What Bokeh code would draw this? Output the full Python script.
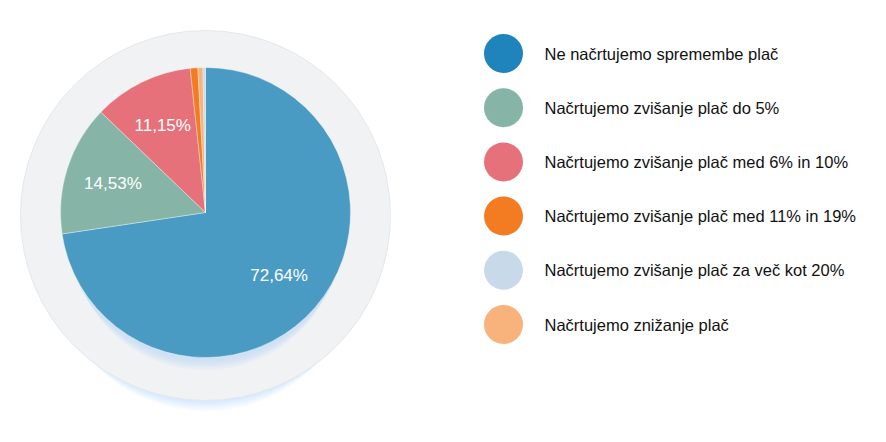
import numpy as np
from bokeh.plotting import figure
from bokeh.models import Range1d
from bokeh.core.properties import value
from bokeh.embed import file_html
from bokeh.resources import INLINE

categories = [
    "Ne načrtujemo spremembe plač",
    "Načrtujemo zvišanje plač do 5%",
    "Načrtujemo zvišanje plač med 6% in 10%",
    "Načrtujemo zvišanje plač med 11% in 19%",
    "Načrtujemo zvišanje plač za več kot 20%",
    "Načrtujemo znižanje plač",
]
values = [72.64, 14.53, 11.15, 0.84, 0.28, 0.56]
legend_colors = ["#1F84BC", "#86B5A7", "#E7717A", "#F37B21", "#C8DAEA", "#F8B27B"]
slice_colors = ["#4A9BC4", "#86B5A7", "#E7717A", "#F37B21", "#C8DAEA", "#F8B27B"]
pie_order = [0, 1, 2, 3, 5, 4]
label_min = 5.0

W, H = 870, 426
p = figure(width=W, height=H, output_backend="svg", toolbar_location=None,
           x_range=Range1d(0, W), y_range=Range1d(0, H), min_border=0)
p.axis.visible = False
p.grid.visible = False
p.outline_line_color = None
p.background_fill_color = "white"
p.border_fill_color = "white"

def sy(y):
    return H - y

cx, cy = 205, sy(212)
ring_cx, ring_cy = 205, sy(215)
R = 145
ring_R = 185

# soft glow below the ring
for k in range(12):
    p.circle(x=[ring_cx], y=[ring_cy - 8 - 3 * k], radius=ring_R - 8 - 2 * k, radius_units="screen",
             fill_color="#8fd2f4", fill_alpha=0.035, line_color=None)
p.circle(x=[ring_cx], y=[ring_cy], radius=ring_R, radius_units="screen",
         fill_color="#F0F2F4", line_color="#e4e7ea", line_width=1)

# soft glow of the pie onto the ring
for k in range(10):
    p.circle(x=[cx], y=[cy - 6 - 2 * k], radius=R - 2 - k, radius_units="screen",
             fill_color="#8fd2f4", fill_alpha=0.04, line_color=None)

# pie
total = sum(values)
ang = np.pi / 2
starts, ends, cols, mids, vals = [], [], [], [], []
for i in pie_order:
    sweep = values[i] / total * 2 * np.pi
    starts.append(ang - sweep)
    ends.append(ang)
    cols.append(slice_colors[i])
    mids.append(ang - sweep / 2)
    vals.append(values[i])
    ang -= sweep
p.wedge(x=cx, y=cy, radius=R, radius_units="screen", start_angle=starts, end_angle=ends,
        fill_color=cols, line_color="white", line_width=0.6, line_alpha=0.6)

lx, ly, lt = [], [], []
for m, v in zip(mids, vals):
    if v >= label_min:
        lx.append(cx + 0.67 * R * np.cos(m))
        ly.append(cy + 0.67 * R * np.sin(m))
        lt.append(f"{v:.2f}".replace(".", ",") + "%")
p.text(x=lx, y=ly, text=lt, text_color="white", text_font=value("Liberation Sans"),
       text_font_size="17px", text_align="center", text_baseline="middle")

# legend
leg_x, leg_y0, step = 503, sy(53), 54.2
ys = [leg_y0 - i * step for i in range(len(categories))]
p.circle(x=[leg_x] * len(categories), y=ys, radius=19.5, radius_units="screen",
         fill_color=legend_colors, line_color=None)
p.text(x=[leg_x + 41] * len(categories), y=ys, text=categories, text_color="#111111",
       text_font=value("Liberation Sans"), text_font_size="16.5px",
       text_align="left", text_baseline="middle")

open("out.html", "w").write(file_html(p, INLINE))
